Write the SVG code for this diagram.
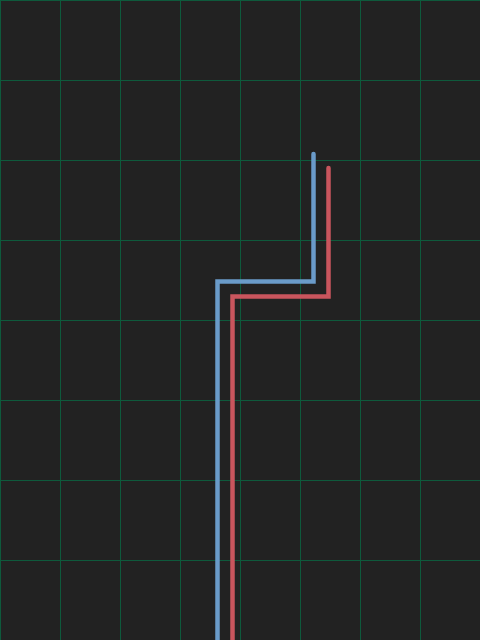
<svg xmlns="http://www.w3.org/2000/svg" width="480" height="640" viewBox="0 0 480 640">
<style>
.grid line{stroke:#0e5a3c;stroke-width:1}
.wire{fill:none;stroke-width:4.5;stroke-linecap:round;stroke-linejoin:miter}
</style>
<rect width="480" height="640" fill="#222222"/>
<g id="grid" class="grid">
<line x1="0.5" y1="0" x2="0.5" y2="640"/>
<line x1="60.5" y1="0" x2="60.5" y2="640"/>
<line x1="120.5" y1="0" x2="120.5" y2="640"/>
<line x1="180.5" y1="0" x2="180.5" y2="640"/>
<line x1="240.5" y1="0" x2="240.5" y2="640"/>
<line x1="300.5" y1="0" x2="300.5" y2="640"/>
<line x1="360.5" y1="0" x2="360.5" y2="640"/>
<line x1="420.5" y1="0" x2="420.5" y2="640"/>
<line x1="0" y1="0.5" x2="480" y2="0.5"/>
<line x1="0" y1="80.5" x2="480" y2="80.5"/>
<line x1="0" y1="160.5" x2="480" y2="160.5"/>
<line x1="0" y1="240.5" x2="480" y2="240.5"/>
<line x1="0" y1="320.5" x2="480" y2="320.5"/>
<line x1="0" y1="400.5" x2="480" y2="400.5"/>
<line x1="0" y1="480.5" x2="480" y2="480.5"/>
<line x1="0" y1="560.5" x2="480" y2="560.5"/>
</g>
<g id="connectors">
<path id="blue" class="wire" stroke="#6a9bc9" d="M313.5,154 V281.5 H217.5 V645"/>
<path id="red" class="wire" stroke="#c9555d" d="M328.5,168 V296.5 H232.5 V645"/>
</g>
</svg>
